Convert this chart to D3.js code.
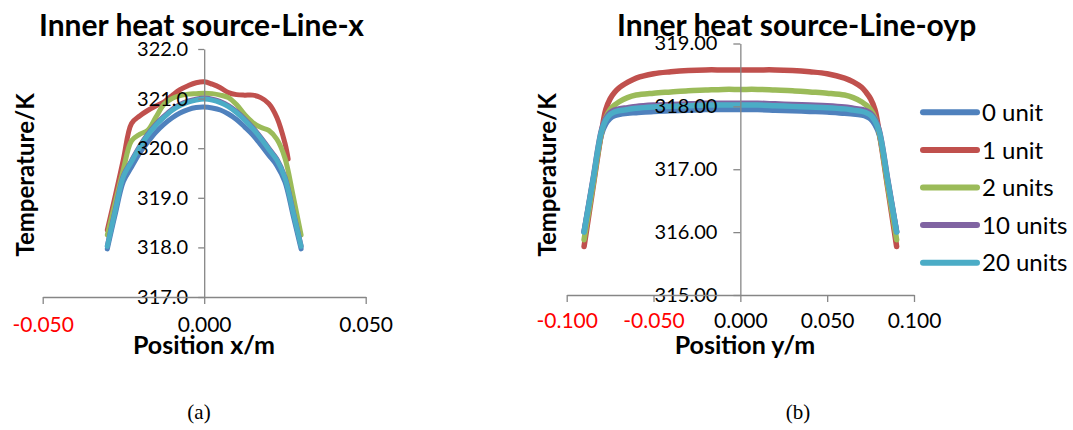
<!DOCTYPE html>
<html><head><meta charset="utf-8">
<script src="https://cdn.jsdelivr.net/npm/d3@7"></script>
<style>
body{margin:0;background:#fff;}
svg{display:block;}
</style></head>
<body><svg id="c" width="1073" height="430"></svg>
<script>
// ---------- data ----------
const seriesNames = ["0 unit","1 unit","2 units","10 units","20 units"];
const seriesColors = ["#4F81BD","#C0504D","#9BBB59","#8064A2","#4BACC6"];

// chart (a): Line-x
const posXA = [-0.0300,-0.0275,-0.0250,-0.0225,-0.0200,-0.0175,-0.0150,-0.0125,-0.0100,-0.0075,-0.0050,-0.0025,0,0.0025,0.0050,0.0075,0.0100,0.0125,0.0150,0.0175,0.0200,0.0225,0.0250,0.0275,0.0300];
const posXA_red = [-0.0300,-0.0275,-0.0250,-0.0225,-0.0200,-0.0175,-0.0150,-0.0125,-0.0100,-0.0075,-0.0050,-0.0025,0,0.0025,0.0050,0.0075,0.0100,0.0125,0.0150,0.0175,0.0200,0.0225,0.0250,0.0260];
const tempA_0  = [317.97,318.68,319.33,319.62,319.90,320.12,320.32,320.48,320.61,320.71,320.78,320.82,320.83,320.81,320.77,320.69,320.58,320.43,320.27,320.07,319.86,319.65,319.32,318.65,317.97];
const tempA_1  = [318.35,319.05,319.78,320.50,320.65,320.76,320.85,320.93,321.06,321.18,321.26,321.32,321.34,321.29,321.22,321.12,321.08,321.07,321.07,321.02,320.90,320.62,320.10,319.78];
const tempA_2  = [318.25,318.92,319.58,320.15,320.28,320.36,320.62,320.88,321.00,321.06,321.09,321.10,321.11,321.10,321.07,321.02,320.88,320.68,320.52,320.42,320.36,320.18,319.80,319.05,318.25];
const tempA_10 = [318.03,318.77,319.45,319.75,320.04,320.28,320.48,320.64,320.78,320.88,320.95,320.99,321.01,320.99,320.94,320.86,320.74,320.59,320.42,320.22,320.00,319.78,319.42,318.74,318.03];
const tempA_20 = [318.02,318.75,319.43,319.73,320.02,320.26,320.46,320.62,320.76,320.86,320.93,320.97,320.99,320.97,320.92,320.84,320.72,320.57,320.40,320.20,319.98,319.76,319.40,318.72,318.02];
const xTicksA = [-0.05, 0, 0.05];
const yTicksA = [317, 318, 319, 320, 321, 322];

// chart (b): Line-oyp
const posYB = [-0.090,-0.085,-0.080,-0.0775,-0.075,-0.0725,-0.070,-0.065,-0.060,-0.050,-0.040,-0.030,-0.020,-0.010,0,0.010,0.020,0.030,0.040,0.050,0.060,0.065,0.070,0.0725,0.075,0.0775,0.080,0.085,0.090];
const tempB_0  = [316.00,316.78,317.55,317.72,317.81,317.85,317.87,317.89,317.90,317.92,317.93,317.94,317.95,317.95,317.95,317.95,317.94,317.93,317.92,317.91,317.89,317.88,317.86,317.84,317.80,317.71,317.55,316.78,316.00];
const tempB_1  = [315.77,316.68,317.58,317.95,318.12,318.22,318.29,318.38,318.45,318.52,318.55,318.57,318.58,318.58,318.58,318.58,318.58,318.57,318.55,318.52,318.45,318.39,318.30,318.22,318.12,317.95,317.58,316.68,315.77];
const tempB_2  = [315.88,316.72,317.58,317.82,317.95,318.02,318.07,318.14,318.18,318.21,318.23,318.25,318.26,318.27,318.27,318.27,318.26,318.25,318.23,318.21,318.18,318.14,318.07,318.02,317.95,317.82,317.58,316.72,315.88];
const tempB_10 = [316.01,316.82,317.62,317.81,317.90,317.94,317.96,317.98,318.00,318.02,318.03,318.04,318.05,318.05,318.05,318.05,318.04,318.03,318.02,318.01,317.99,317.97,317.95,317.93,317.89,317.80,317.62,316.82,316.01];
const tempB_20 = [316.00,316.80,317.60,317.78,317.87,317.91,317.93,317.95,317.97,317.99,318.00,318.01,318.02,318.02,318.02,318.02,318.01,318.00,317.99,317.98,317.96,317.94,317.92,317.90,317.86,317.77,317.60,316.80,316.00];
const xTicksB = [-0.1, -0.05, 0, 0.05, 0.1];
const yTicksB = [315, 316, 317, 318, 319];

const seriesA = [
  {x: posXA, y: tempA_0}, {x: posXA_red, y: tempA_1}, {x: posXA, y: tempA_2},
  {x: posXA, y: tempA_10}, {x: posXA, y: tempA_20}];
const seriesB = [
  {x: posYB, y: tempB_0}, {x: posYB, y: tempB_1}, {x: posYB, y: tempB_2},
  {x: posYB, y: tempB_10}, {x: posYB, y: tempB_20}];

// ---------- drawing ----------
const svg = d3.select("#c");
const axisColor = "#868686";
const SANS = "Lato, 'Open Sans', sans-serif";

function panel(cfg) {
  const g = svg.append("g");
  const x = d3.scaleLinear().domain(cfg.xDomain).range(cfg.xRange);
  const y = d3.scaleLinear().domain(cfg.yDomain).range(cfg.yRange);

  const line = d3.line().curve(d3.curveCatmullRom.alpha(0.5));
  cfg.series.forEach((s, i) => {
    g.append("path")
      .attr("d", line(s.x.map((v, k) => [x(v), y(s.y[k])])))
      .attr("fill", "none").attr("stroke", seriesColors[i])
      .attr("stroke-width", cfg.lw).attr("stroke-linecap", "round").attr("stroke-linejoin", "round");
  });

  const ya = g.append("g").attr("transform", `translate(${x(0)},0)`)
    .call(d3.axisLeft(y).tickValues(cfg.yTicks).tickFormat(d3.format(cfg.yFmt))
      .tickSize(cfg.yTickSize).tickSizeOuter(0).tickPadding(cfg.yPad));
  const xa = g.append("g").attr("transform", `translate(0,${y(cfg.yDomain[0])})`)
    .call(d3.axisBottom(x).tickValues(cfg.xTicks).tickFormat(d => d3.format(".3f")(d).replace("−","-"))
      .tickSize(7).tickSizeOuter(0).tickPadding(cfg.xPad));
  [ya, xa].forEach(a => {
    a.select(".domain").attr("stroke", axisColor).attr("stroke-width", 1.3);
    a.selectAll(".tick line").attr("stroke", axisColor).attr("stroke-width", 1.3);
    a.selectAll(".tick text").style("font-family", SANS).style("font-size", "20px");
  });
  xa.selectAll(".tick text").style("font-size", "21px").style("fill", d => d < 0 ? "#FF0000" : "#000");
  ya.selectAll(".tick text").style("fill", "#000");

  g.append("text").attr("x", cfg.titleX).attr("y", 36)
    .style("font-family", SANS).style("font-size", "30px").style("font-weight", "bold").text(cfg.title);
  g.append("text").attr("transform", `translate(${cfg.ylabX},175) rotate(-90)`)
    .attr("text-anchor", "middle").style("font-family", SANS).style("font-size", "24px").style("font-weight", "bold").text("Temperature/K");
  g.append("text").attr("x", cfg.xlabX).attr("y", 354)
    .attr("text-anchor", "middle").style("font-family", SANS).style("font-size", "25px").style("font-weight", "bold").text(cfg.xlab);
  g.append("text").attr("x", cfg.capX).attr("y", 419)
    .attr("text-anchor", "middle").style("font-family", "'Liberation Serif', serif").style("font-size", "21px").text(cfg.cap);
}

panel({
  xDomain: [-0.05, 0.05], xRange: [42.7, 365.7],
  yDomain: [317, 322], yRange: [297, 49],
  xTicks: xTicksA, yTicks: yTicksA, yFmt: ".1f",
  yTickSize: 6, yPad: 10, xPad: 13, lw: 5,
  series: seriesA,
  title: "Inner heat source-Line-x", titleX: 39,
  ylabX: 34, xlab: "Position x/m", xlabX: 204,
  cap: "(a)", capX: 199
});
panel({
  xDomain: [-0.1, 0.1], xRange: [566.7, 914],
  yDomain: [315, 319], yRange: [295, 43.5],
  xTicks: xTicksB, yTicks: yTicksB, yFmt: ".2f",
  yTickSize: 7, yPad: 16, xPad: 11, lw: 5.5,
  series: seriesB,
  title: "Inner heat source-Line-oyp", titleX: 617,
  ylabX: 556, xlab: "Position y/m", xlabX: 745,
  cap: "(b)", capX: 798
});

// legend
const leg = svg.append("g");
const legY = d3.scalePoint().domain(seriesNames).range([112.3, 262.7]);
seriesNames.forEach((n, i) => {
  leg.append("line").attr("x1", 923).attr("x2", 977).attr("y1", legY(n)).attr("y2", legY(n))
    .attr("stroke", seriesColors[i]).attr("stroke-width", 6).attr("stroke-linecap", "round");
  leg.append("text").attr("x", 982).attr("y", legY(n)).attr("dy", "0.36em")
    .style("font-family", SANS).style("font-size", "24px").text(n);
});
</script></body></html>
